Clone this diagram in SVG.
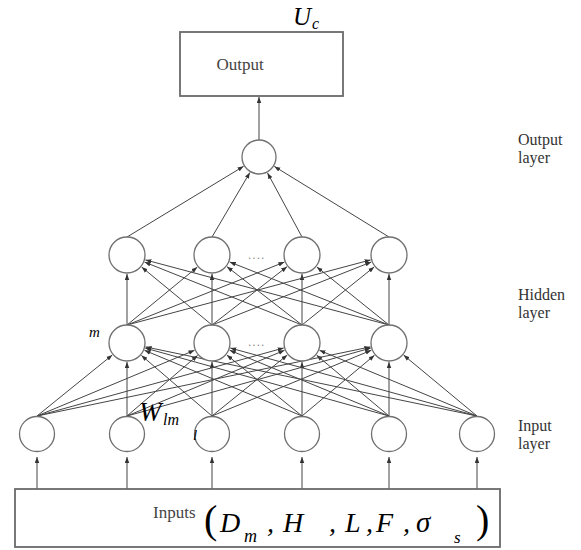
<svg xmlns="http://www.w3.org/2000/svg" width="581" height="550" viewBox="0 0 581 550">
<defs>
<marker id="ah" viewBox="0 0 8 6" refX="8" refY="3" markerWidth="6" markerHeight="5" orient="auto" markerUnits="userSpaceOnUse">
<path d="M0,0 L8,3 L0,6 z" fill="#333"/>
</marker>
<style>
.node{fill:#fff;stroke:#707070;stroke-width:1.3}
.box{fill:#fff;stroke:#6a6a6a;stroke-width:1.8}
.conn line{stroke:#454545;stroke-width:1;marker-end:url(#ah)}
.lbl{font-family:"Liberation Serif",serif;font-size:16px;fill:#333}
.sm{font-family:"Liberation Serif",serif;font-size:17px;fill:#444}
.math{font-family:"Liberation Serif",serif;font-style:italic;fill:#000}
.par{font-family:"Liberation Serif",serif;font-size:40px;fill:#000}
.dots{font-family:"Liberation Sans",sans-serif;font-size:12px;fill:#888;letter-spacing:1px}
</style>
</defs>
<rect width="581" height="550" fill="#fff"/>

<g id="output-box">
<rect class="box" x="180" y="32" width="163" height="64"/>
<text class="sm" x="240" y="70" text-anchor="middle">Output</text>
</g>
<g id="label-Uc">
<text class="math" x="293" y="25" font-size="25">U</text>
<text class="math" x="312" y="29" font-size="16">c</text>
</g>

<g id="connectors" class="conn">
<line x1="259" y1="140" x2="259" y2="97"/>
<line x1="127" y1="237" x2="243.6" y2="166.3"/>
<line x1="212" y1="237" x2="249.9" y2="172.5"/>
<line x1="302" y1="237" x2="267.5" y2="172.9"/>
<line x1="389" y1="237" x2="274.3" y2="166.4"/>

<line x1="127" y1="325" x2="127" y2="274"/>
<line x1="212" y1="325" x2="141.7" y2="267.1"/>
<line x1="302" y1="325" x2="144.6" y2="262.1"/>
<line x1="389" y1="325" x2="145.4" y2="259.9"/>
<line x1="127" y1="325" x2="197.3" y2="267.1"/>
<line x1="212" y1="325" x2="212" y2="274"/>
<line x1="302" y1="325" x2="227.0" y2="266.7"/>
<line x1="389" y1="325" x2="229.7" y2="262.0"/>
<line x1="127" y1="325" x2="284.4" y2="262.1"/>
<line x1="212" y1="325" x2="287.0" y2="266.7"/>
<line x1="302" y1="325" x2="302" y2="274"/>
<line x1="389" y1="325" x2="316.8" y2="266.9"/>
<line x1="127" y1="325" x2="370.6" y2="259.9"/>
<line x1="212" y1="325" x2="371.3" y2="262.0"/>
<line x1="302" y1="325" x2="374.2" y2="266.9"/>
<line x1="389" y1="325" x2="389" y2="274"/>

<line x1="37" y1="416" x2="112.3" y2="355.0"/>
<line x1="127" y1="416" x2="127" y2="362"/>
<line x1="212" y1="416" x2="141.4" y2="355.4"/>
<line x1="302" y1="416" x2="144.5" y2="350.3"/>
<line x1="389" y1="416" x2="145.3" y2="348.1"/>
<line x1="477" y1="416" x2="145.6" y2="346.9"/>
<line x1="37" y1="416" x2="194.5" y2="350.3"/>
<line x1="127" y1="416" x2="197.6" y2="355.4"/>
<line x1="212" y1="416" x2="212" y2="362"/>
<line x1="302" y1="416" x2="226.8" y2="355.0"/>
<line x1="389" y1="416" x2="229.6" y2="350.2"/>
<line x1="477" y1="416" x2="230.3" y2="348.0"/>
<line x1="37" y1="416" x2="283.7" y2="348.0"/>
<line x1="127" y1="416" x2="284.5" y2="350.3"/>
<line x1="212" y1="416" x2="287.3" y2="355.0"/>
<line x1="302" y1="416" x2="302" y2="362"/>
<line x1="389" y1="416" x2="316.6" y2="355.2"/>
<line x1="477" y1="416" x2="319.5" y2="350.3"/>
<line x1="37" y1="416" x2="370.4" y2="346.9"/>
<line x1="127" y1="416" x2="370.7" y2="348.1"/>
<line x1="212" y1="416" x2="371.4" y2="350.2"/>
<line x1="302" y1="416" x2="374.5" y2="355.2"/>
<line x1="389" y1="416" x2="389" y2="362"/>
<line x1="477" y1="416" x2="403.6" y2="355.1"/>

<line x1="37" y1="489" x2="37" y2="457"/>
<line x1="127" y1="489" x2="127" y2="457"/>
<line x1="212" y1="489" x2="212" y2="457"/>
<line x1="302" y1="489" x2="302" y2="457"/>
<line x1="389" y1="489" x2="389" y2="457"/>
<line x1="477" y1="489" x2="477" y2="457"/>
</g>

<g id="out-node"><circle class="node" cx="259" cy="157" r="17"/></g>

<g id="h2-1"><circle class="node" cx="127" cy="255" r="18"/></g>
<g id="h2-2"><circle class="node" cx="212" cy="255" r="18"/></g>
<g id="h2-3"><circle class="node" cx="302" cy="255" r="18"/></g>
<g id="h2-4"><circle class="node" cx="389" cy="255" r="18"/></g>
<text class="dots" x="248" y="259">....</text>

<g id="h1-1"><circle class="node" cx="127" cy="343" r="18"/></g>
<g id="h1-2"><circle class="node" cx="212" cy="343" r="18"/></g>
<g id="h1-3"><circle class="node" cx="302" cy="343" r="18"/></g>
<g id="h1-4"><circle class="node" cx="389" cy="343" r="18"/></g>
<text class="dots" x="248" y="346">....</text>

<g id="in-1"><circle class="node" cx="37" cy="434" r="17.5"/></g>
<g id="in-2"><circle class="node" cx="127" cy="434" r="17.5"/></g>
<g id="in-3"><circle class="node" cx="212" cy="434" r="17.5"/></g>
<g id="in-4"><circle class="node" cx="302" cy="434" r="17.5"/></g>
<g id="in-5"><circle class="node" cx="389" cy="434" r="17.5"/></g>
<g id="in-6"><circle class="node" cx="477" cy="434" r="17.5"/></g>

<text class="math" x="89" y="337" font-size="15">m</text>
<g id="label-Wlm">
<text class="math" x="139" y="421" font-size="27">W</text>
<text class="math" x="163" y="425" font-size="16">lm</text>
</g>
<text class="math" x="193" y="440" font-size="15">l</text>

<g id="inputs-box">
<rect class="box" x="15" y="489" width="485" height="58"/>
<text class="sm" x="153" y="518" font-size="16">Inputs</text>
<text class="par" x="204" y="533">(</text>
<text class="math" font-size="28" x="220" y="532">D</text>
<text class="math" font-size="18" x="244" y="542">m</text>
<text class="math" font-size="28" x="267" y="532">,</text>
<text class="math" font-size="28" x="283" y="532">H</text>
<text class="math" font-size="28" x="329" y="532">,</text>
<text class="math" font-size="28" x="345" y="532">L</text>
<text class="math" font-size="28" x="366" y="532">,</text>
<text class="math" font-size="28" x="376" y="532">F</text>
<text class="math" font-size="28" x="403" y="532">,</text>
<text class="math" font-size="29" x="416" y="532">σ</text>
<text class="math" font-size="17" x="454" y="543">s</text>
<text class="par" x="476" y="533">)</text>
</g>

<text class="lbl" x="518" y="145">Output</text>
<text class="lbl" x="518" y="163">layer</text>
<text class="lbl" x="518" y="300">Hidden</text>
<text class="lbl" x="518" y="318">layer</text>
<text class="lbl" x="518" y="431">Input</text>
<text class="lbl" x="518" y="449">layer</text>
</svg>
